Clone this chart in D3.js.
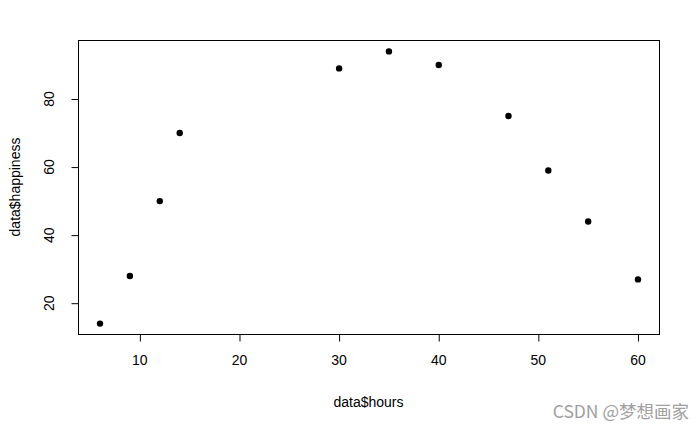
<!DOCTYPE html>
<meta charset="utf-8">
<style>
    body { margin: 0; background: #fff; }
    svg { display: block; font-family: "Liberation Sans", Arial, sans-serif; }
    .lbl { font-size: 14px; fill: #000; }
</style>
<body>
<script src="https://d3js.org/d3.v7.min.js"></script>
<script>

    // values
    var hours = [6, 9, 12, 14, 30, 35, 40, 47, 51, 55, 60];
    var happiness = [14, 28, 50, 70, 89, 94, 90, 75, 59, 44, 27];
    var xTicks = [10, 20, 30, 40, 50, 60];
    var yTicks = [20, 40, 60, 80];

    var width = 700,
        height = 432;

    // plot box, same as R's default margins here
    var boxL = 78, boxR = 659, boxT = 40, boxB = 334;

    var svg = d3.select("body").append("svg")
        .attr("width", width)
        .attr("height", height);

    // R pads the data range by 4% on each side
    var xr = d3.extent(hours), yr = d3.extent(happiness);
    var xpad = (xr[1] - xr[0]) * 0.04, ypad = (yr[1] - yr[0]) * 0.04;

    var x = d3.scaleLinear()
        .domain([xr[0] - xpad, xr[1] + xpad])
        .range([boxL, boxR]);

    var y = d3.scaleLinear()
        .domain([yr[0] - ypad, yr[1] + ypad])
        .range([boxB, boxT]);

    // box
    svg.append("rect")
        .attr("x", boxL + 0.5)
        .attr("y", boxT + 0.5)
        .attr("width", boxR - boxL)
        .attr("height", boxB - boxT)
        .attr("fill", "none")
        .attr("stroke", "#000")
        .attr("stroke-width", 1);

    // x axis
    var xAxis = svg.append("g")
        .attr("transform", "translate(0," + (boxB + 0.5) + ")")
        .call(d3.axisBottom(x).tickValues(xTicks).tickSize(7).tickPadding(14).tickSizeOuter(0));
    xAxis.select(".domain").remove();
    xAxis.selectAll(".tick line").attr("transform", "translate(0.5,0)");
    xAxis.selectAll("text")
        .attr("class", "lbl")
        .attr("font-family", null);

    // y axis, labels rotated like R's las=0
    var yAxis = svg.append("g")
        .attr("transform", "translate(" + (boxL + 0.5) + ",0)")
        .call(d3.axisLeft(y).tickValues(yTicks).tickSize(7).tickSizeOuter(0));
    yAxis.select(".domain").remove();
    yAxis.selectAll(".tick line").attr("transform", "translate(0,0.5)");
    yAxis.selectAll("text")
        .attr("class", "lbl")
        .attr("font-family", null)
        .attr("x", null)
        .attr("dy", null)
        .attr("text-anchor", "middle")
        .attr("dominant-baseline", "central")
        .attr("transform", "translate(-30,0) rotate(-90)");

    svg.selectAll(".tick text").style("font-size", "14px");

    // points, pch = 19
    svg.append("g")
        .selectAll("circle")
        .data(hours)
        .enter()
        .append("circle")
        .attr("cx", function(d) { return x(d) + 0.5; })
        .attr("cy", function(d, i) { return y(happiness[i]) + 0.5; })
        .attr("r", 3.2)
        .attr("fill", "#000");

    // axis titles
    svg.append("text")
        .attr("class", "lbl")
        .attr("x", (boxL + boxR) / 2)
        .attr("y", 402)
        .attr("text-anchor", "middle")
        .attr("dominant-baseline", "central")
        .text("data$hours");

    svg.append("text")
        .attr("class", "lbl")
        .attr("transform", "translate(15," + ((boxT + boxB) / 2) + ") rotate(-90)")
        .attr("text-anchor", "middle")
        .attr("dominant-baseline", "central")
        .text("data$happiness");

    // watermark
    svg.append("text")
        .attr("x", 689)
        .attr("y", 418)
        .attr("text-anchor", "end")
        .style("font-family", "'Noto Sans CJK SC', sans-serif")
        .style("font-size", "17.5px")
        .attr("fill", "#a0a0a0")
        .text("CSDN @梦想画家");
</script>
